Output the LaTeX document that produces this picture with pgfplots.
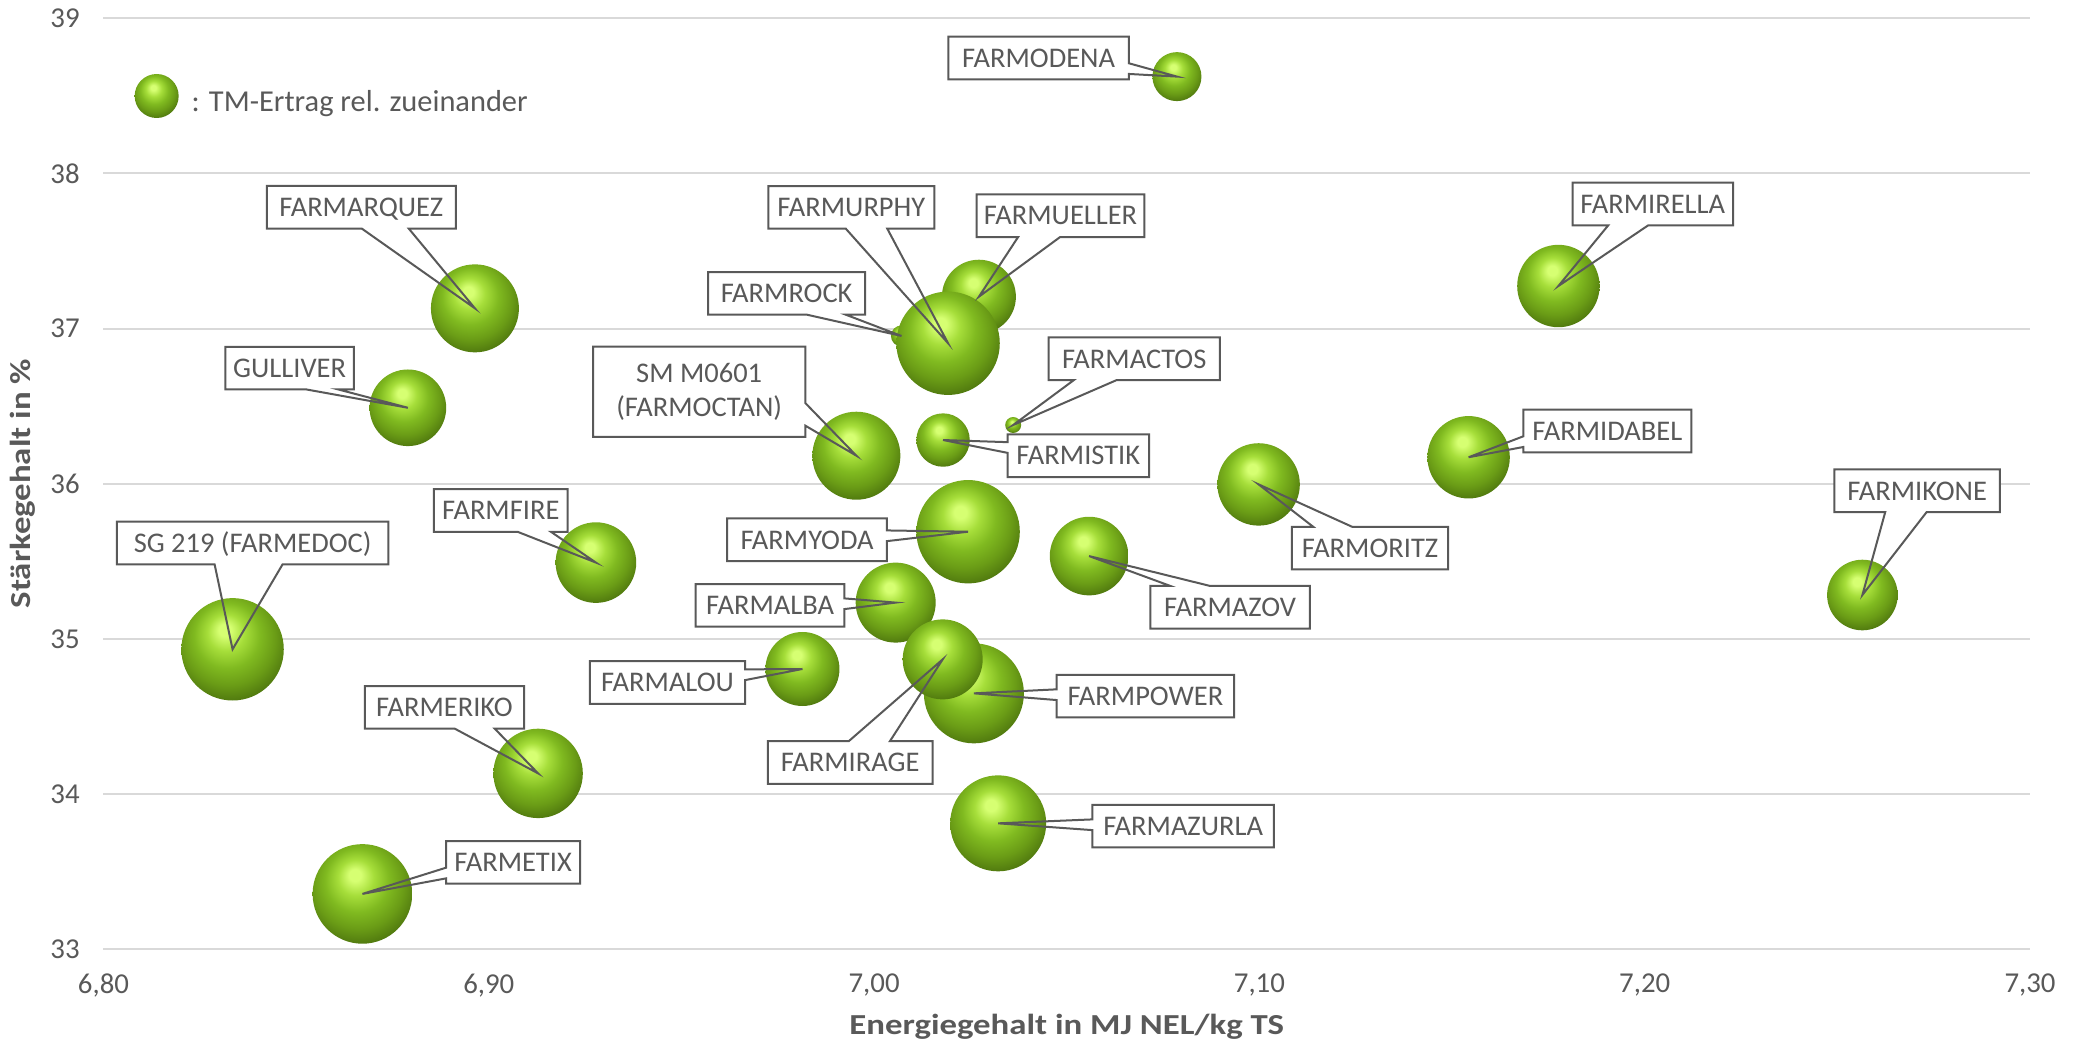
\documentclass[border=0pt]{standalone}
\usepackage{fontspec}
\setmainfont{Carlito}
\newfontfamily\labelfont{Carlito}
\newfontfamily\axisfont[FakeStretch=1.2]{Carlito}
\usepackage{pgfplots}
\usepackage{pgfplotstable}
\pgfplotsset{compat=1.18}
\usetikzlibrary{shapes.callouts}

\definecolor{textgray}{HTML}{595959}
\definecolor{gridgray}{HTML}{D9D9D9}
\definecolor{ballA}{HTML}{D6FF72}
\definecolor{ballB}{HTML}{A6DE3A}
\definecolor{ballC}{HTML}{80BA20}
\definecolor{ballD}{HTML}{6A9C16}
\definecolor{ballE}{HTML}{4E760E}
\definecolor{ballF}{HTML}{3A560A}

\pgfdeclareradialshading{greenball}{\pgfpoint{-4bp}{10bp}}{%
  color(0bp)=(ballA); color(3bp)=(ballA); color(9bp)=(ballB);
  color(16bp)=(ballC); color(23bp)=(ballD); color(30bp)=(ballE);
  color(38bp)=(ballF); color(50bp)=(ballF)}
\pgfdeclareplotmark{sphere}{%
  \pgfpathcircle{\pgfpointorigin}{\pgfplotmarksize}%
  \pgfshadepath{greenball}{0}%
  \pgfusepath{}%
}

% bubbles: x = Energiegehalt, y = Staerkegehalt, r = bubble radius (mm)
\pgfplotstableread{
name x y r
FARMODENA 7.0786 38.624 2.45
FARMARQUEZ 6.8964 37.130 4.40
FARMIRELLA 7.1776 37.274 4.12
GULLIVER 6.8790 36.489 3.83
FARMUELLER 7.0272 37.205 3.70
FARMROCK 7.0071 36.952 1.05
FARMURPHY 7.0192 36.905 5.17
FARMOCTAN 6.9954 36.180 4.40
FARMACTOS 7.0361 36.378 0.80
FARMISTIK 7.0179 36.281 2.67
FARMIDABEL 7.1543 36.170 4.12
FARMORITZ 7.0998 35.995 4.12
FARMIKONE 7.2565 35.282 3.53
FARMYODA 7.0244 35.690 5.17
FARMAZOV 7.0558 35.533 3.93
FARMFIRE 6.9278 35.491 4.03
SG219 6.8335 34.932 5.12
FARMALBA 7.0056 35.233 4.00
FARMALOU 6.9814 34.805 3.70
FARMPOWER 7.0259 34.648 5.00
FARMIRAGE 7.0178 34.867 4.00
FARMERIKO 6.9128 34.132 4.47
FARMAZURLA 7.0322 33.810 4.80
FARMETIX 6.8672 33.355 4.98
}\bubbles

\tikzset{lbl/.style={font=\labelfont\fontsize{8.1pt}{9.5pt}\selectfont, text=textgray,
  inner xsep=0.5mm, inner ysep=0pt, minimum height=4.26mm, text height=1.85mm,
  text depth=0pt, line width=0.2mm, anchor=center}}

% #1 id, #2 box centre, #3 pointer (bubble centre), #4 box width (mm), #5 pointer width (mm), #6 extra, #7 text
\newcommand\Lcoord[7]{\coordinate (c#1) at (axis cs:#2); \coordinate (p#1) at (axis cs:#3);}
\newcommand\Lfill[7]{\node[lbl,fill=white,text opacity=0,minimum width=#4mm,#6] at (c#1) {#7};}
\newcommand\Ldraw[7]{\node[lbl,rectangle callout,draw=textgray,
  callout absolute pointer={(p#1)},callout pointer width=#5mm,minimum width=#4mm,#6] at (c#1) {#7};}

\newcommand\alllabels[1]{%
#1{a}{7.0427,38.744}{7.0786,38.624}{18.03}{1.07}{}{FARMODENA}%
#1{b}{6.8669,37.782}{6.8964,37.130}{18.90}{4.7}{}{FARMARQUEZ}%
#1{c}{6.9941,37.781}{7.0192,36.905}{16.60}{4.15}{}{FARMURPHY}%
#1{d}{7.0484,37.727}{7.0272,37.205}{16.77}{4.2}{}{FARMUELLER}%
#1{e}{6.9773,37.227}{7.0071,36.952}{15.68}{3.9}{}{FARMROCK}%
#1{f}{7.2021,37.803}{7.1776,37.274}{16.06}{4.0}{}{FARMIRELLA}%
#1{g}{6.8483,36.745}{6.8790,36.489}{12.87}{3.2}{}{GULLIVER}%
#1{h}{6.9546,36.592}{6.9954,36.180}{21.23}{2.26}{align=center,text height={},text depth={},minimum height=9.03mm}{SM M0601\\(FARMOCTAN)}%
#1{i}{7.0675,36.805}{7.0361,36.378}{17.13}{4.28}{}{FARMACTOS}%
#1{j}{7.0530,36.180}{7.0179,36.281}{14.16}{1.07}{}{FARMISTIK}%
#1{k}{7.1903,36.339}{7.1543,36.170}{16.80}{1.07}{}{FARMIDABEL}%
#1{l}{7.1287,35.584}{7.0998,35.995}{15.63}{3.9}{}{FARMORITZ}%
#1{m}{7.2707,35.954}{7.2565,35.282}{16.56}{4.14}{}{FARMIKONE}%
#1{n}{6.9826,35.638}{7.0244,35.690}{15.97}{1.07}{}{FARMYODA}%
#1{o}{7.0924,35.203}{7.0558,35.533}{15.93}{3.98}{}{FARMAZOV}%
#1{p}{6.9031,35.827}{6.9278,35.491}{13.37}{3.34}{}{FARMFIRE}%
#1{q}{6.8387,35.617}{6.8335,34.932}{27.16}{6.8}{}{SG 219 (FARMEDOC)}%
#1{r}{6.9730,35.215}{7.0056,35.233}{14.87}{1.07}{}{FARMALBA}%
#1{s}{6.9464,34.718}{6.9814,34.805}{15.53}{1.07}{}{FARMALOU}%
#1{t}{6.9938,34.202}{7.0178,34.867}{16.47}{4.12}{}{FARMIRAGE}%
#1{u}{7.0704,34.630}{7.0259,34.648}{17.76}{1.07}{}{FARMPOWER}%
#1{v}{6.8885,34.558}{6.9128,34.132}{15.93}{4.0}{}{FARMERIKO}%
#1{w}{7.0802,33.792}{7.0322,33.810}{18.16}{1.07}{}{FARMAZURLA}%
#1{x}{6.9063,33.558}{6.8672,33.355}{13.40}{1.07}{}{FARMETIX}%
}

\begin{document}
\begin{tikzpicture}
\path[use as bounding box] (0,0) rectangle (208.1mm,104.6mm);
\begin{axis}[
  at={(10.35mm,9.7mm)}, anchor=south west,
  scale only axis, width=192.65mm, height=93.07mm,
  xmin=6.8, xmax=7.3, ymin=33, ymax=39,
  xtick={6.8,6.9,7.0,7.1,7.2,7.3}, ytick={33,34,35,36,37,38,39},
  ymajorgrids, grid style={draw=gridgray, line width=0.2mm},
  axis line style={draw=none}, major tick length=0pt, tick style={draw=none},
  clip=false,
  /pgf/number format/assume math mode=true,
  tick label style={font=\fontsize{8.2pt}{9pt}\selectfont, text=textgray},
  xticklabel style={anchor=north, inner sep=0pt, yshift=-2.4mm,
    /pgf/number format/.cd, fixed, fixed zerofill, precision=2, use comma, /tikz/.cd},
  yticklabel style={anchor=east, inner sep=0pt, xshift=-2.31mm},
  xlabel={Energiegehalt in MJ NEL/kg TS},
  ylabel={Stärkegehalt in \%},
  xlabel style={at={(axis description cs:0.5,-0.0924)}, anchor=base,
    font=\axisfont\bfseries\fontsize{8.25pt}{10pt}\selectfont, text=textgray},
  ylabel style={at={(axis description cs:-0.04178,0.5)}, anchor=center,
    font=\axisfont\bfseries\fontsize{8.25pt}{10pt}\selectfont, text=textgray},
]
\addplot[scatter, only marks, mark=sphere,
  visualization depends on={2.845276*\thisrow{r} \as \rr},
  scatter/@pre marker code/.append style={/tikz/mark size=\rr}]
  table[x=x, y=y] {\bubbles};
% legend bubble
\addplot[only marks, mark=sphere, mark size=2.2mm] coordinates {(6.8138,38.499)};
\node[anchor=base west, inner sep=0pt, text=textgray,
  font=\fontsize{8.65pt}{10pt}\selectfont] at (axis cs:6.8227,38.398) {: TM-Ertrag rel. zueinander};
\alllabels\Lcoord
\end{axis}
\alllabels\Lfill
\alllabels\Ldraw
\end{tikzpicture}
\end{document}
